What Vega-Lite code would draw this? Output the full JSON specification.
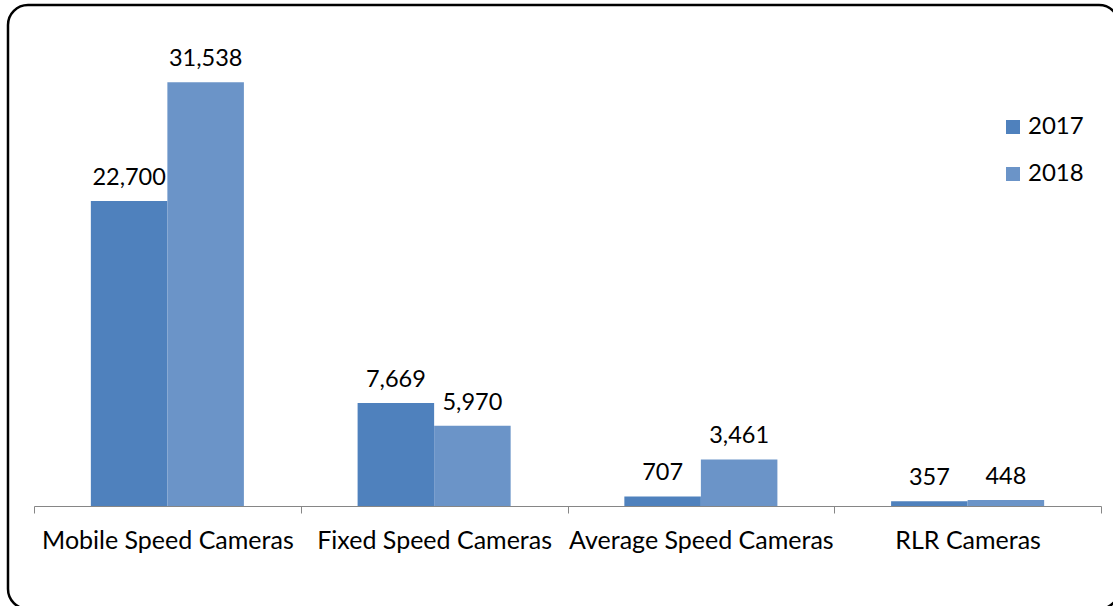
{
  "$schema": "https://vega.github.io/schema/vega-lite/v6.json",
  "width": 1111,
  "height": 604,
  "autosize": {"type": "none"},
  "padding": {"left": 8, "top": 5, "right": -6, "bottom": -3},
  "background": "white",
  "config": {
    "view": {"stroke": "black", "strokeWidth": 2.5, "cornerRadius": 20},
    "font": "Lato"
  },
  "data": {
    "values": [
      {"camera": "Mobile Speed Cameras", "year": "2017", "value": 22700},
      {"camera": "Mobile Speed Cameras", "year": "2018", "value": 31538},
      {"camera": "Fixed Speed Cameras", "year": "2017", "value": 7669},
      {"camera": "Fixed Speed Cameras", "year": "2018", "value": 5970},
      {"camera": "Average Speed Cameras", "year": "2017", "value": 707},
      {"camera": "Average Speed Cameras", "year": "2018", "value": 3461},
      {"camera": "RLR Cameras", "year": "2017", "value": 357},
      {"camera": "RLR Cameras", "year": "2018", "value": 448}
    ]
  },
  "encoding": {
    "x": {
      "field": "camera",
      "type": "nominal",
      "sort": ["Mobile Speed Cameras", "Fixed Speed Cameras", "Average Speed Cameras", "RLR Cameras"],
      "scale": {"range": [26, 1093], "paddingInner": 0, "paddingOuter": 0},
      "axis": {
        "title": null,
        "orient": "bottom",
        "offset": -103,
        "tickBand": "extent",
        "tickSize": 7,
        "domainColor": "#868686",
        "tickColor": "#868686",
        "domainWidth": 1,
        "tickWidth": 1,
        "labelFontSize": 25,
        "labelFont": "Lato",
        "labelColor": "black",
        "labelPadding": 15,
        "labelAngle": 0,
        "labelLimit": 0
      }
    },
    "xOffset": {"field": "year", "type": "nominal", "scale": {"paddingOuter": 0.743, "paddingInner": 0}},
    "y": {
      "field": "value",
      "type": "quantitative",
      "scale": {"domain": [-7667, 37290], "nice": false, "zero": false},
      "axis": null
    }
  },
  "layer": [
    {
      "mark": {"type": "bar"},
      "encoding": {
        "y2": {"datum": 0},
        "color": {
          "field": "year",
          "type": "nominal",
          "scale": {"domain": ["2017", "2018"], "range": ["#4F81BD", "#6B94C8"]},
          "legend": {
            "title": null,
            "orient": "none",
            "legendX": 993,
            "legendY": 110,
            "symbolType": "square",
            "symbolSize": 196,
            "symbolStrokeWidth": 0,
            "labelFontSize": 24,
            "labelFont": "Lato",
            "labelColor": "black",
            "rowPadding": 23,
            "padding": 0,
            "labelOffset": 3
          }
        }
      }
    },
    {
      "mark": {"type": "text", "baseline": "alphabetic", "dy": -16, "fontSize": 23.5, "font": "Lato", "color": "black"},
      "encoding": {
        "text": {"field": "value", "type": "quantitative", "format": ","}
      }
    }
  ]
}
